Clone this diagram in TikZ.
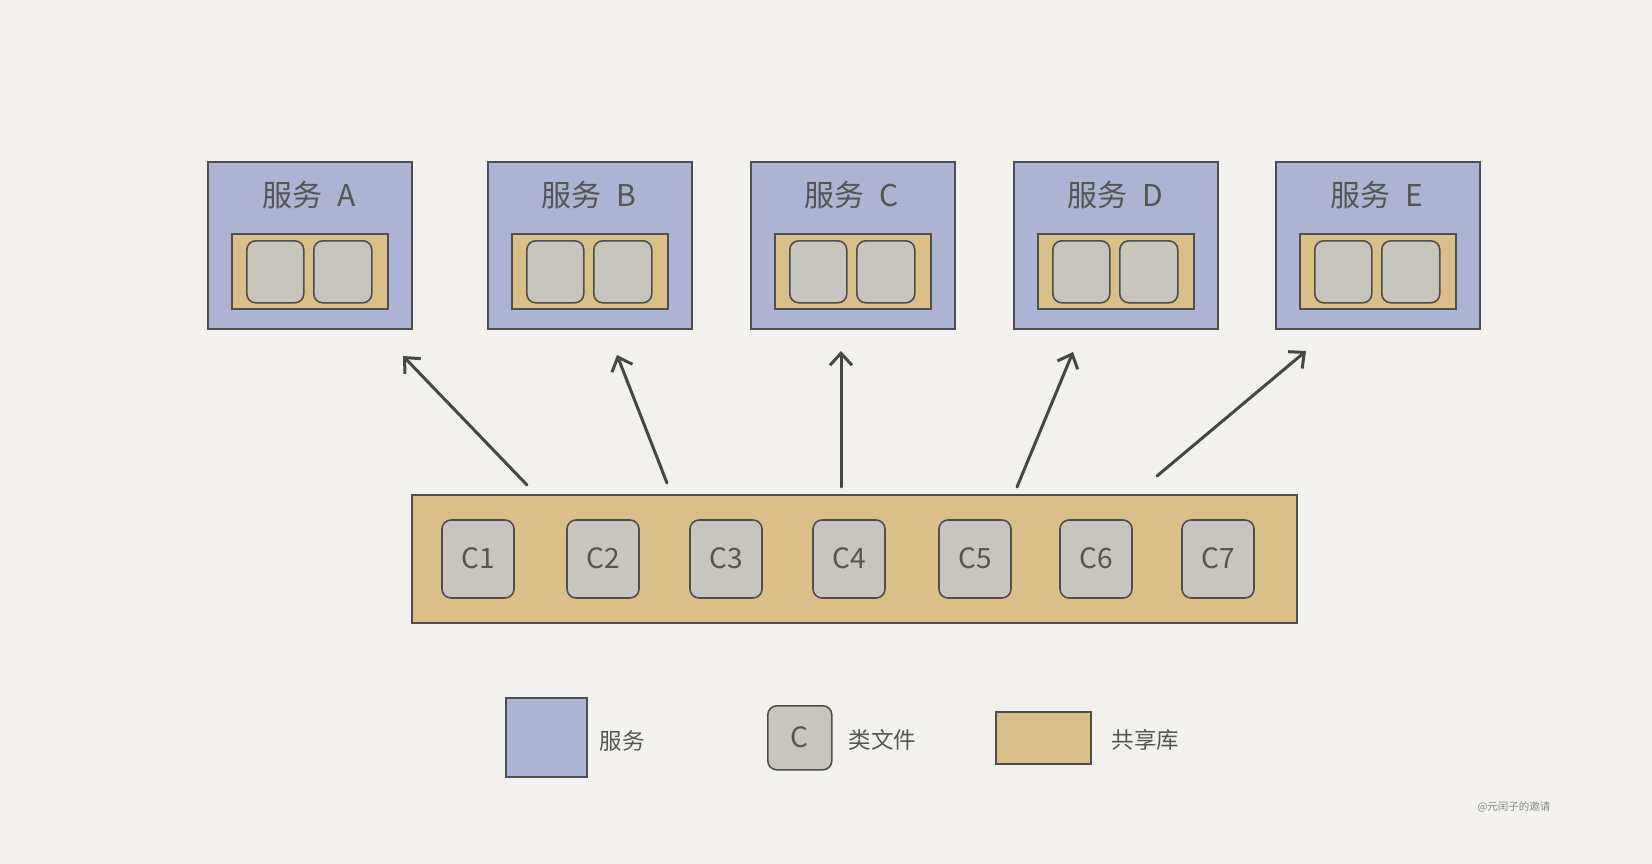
\documentclass[tikz,border=0pt]{standalone}
\usepackage{fontspec}
\setmainfont{Noto Sans CJK SC}
\usetikzlibrary{arrows.meta}
\definecolor{bgc}{HTML}{F2F1ED}
\definecolor{svcc}{HTML}{ADB3D3}
\definecolor{libc}{HTML}{DBBF89}
\definecolor{clsc}{HTML}{C8C4BE}
\definecolor{strokec}{HTML}{4E4E4E}
\definecolor{textc}{HTML}{555555}
\tikzset{
  svcbox/.style={draw=strokec, line width=2.2pt, fill=svcc, anchor=north west, inner sep=0pt},
  libbox/.style={draw=strokec, line width=2pt, fill=libc, anchor=north west, inner sep=0pt},
  clsbox/.style={draw=strokec, line width=1.6pt, fill=clsc, rounded corners=9pt, anchor=north west, inner sep=0pt},
  ttl/.style={text=textc, font=\fontsize{30}{32}\selectfont},
  ctext/.style={text=textc, font=\fontsize{28}{30}\selectfont},
  legtext/.style={text=textc, font=\fontsize{22.5}{24}\selectfont},
  arr/.style={draw=strokec!90!black, line width=3pt, line cap=round, -{Straight Barb[length=12pt,width=22pt,line width=3pt]}},
}
\begin{document}
\begin{tikzpicture}[x=1pt,y=-1pt]
\fill[bgc] (0,0) rectangle (1652,864);
\useasboundingbox (0,0) rectangle (1652,864);
% services
\foreach \n/\x/\l in {sA/207/A, sB/487/B, sC/750/C, sD/1013/D, sE/1275/E}{
  \node[svcbox, minimum width=204pt, minimum height=167pt] (\n) at (\x,161) {};
  \node[ttl] (\n t) at (\x+102,195) {服务\hspace{0.5em}\l};
  \node[libbox, minimum width=156pt, minimum height=75pt] (\n l) at (\x+24,233) {};
  \node[clsbox, minimum width=57pt, minimum height=62pt] (\n c1) at (\x+39,240) {};
  \node[clsbox, minimum width=58pt, minimum height=62pt] (\n c2) at (\x+106,240) {};
}
% shared library
\node[libbox, minimum width=885pt, minimum height=128pt] (lib) at (411,494) {};
\foreach \i/\x in {1/478, 2/603, 3/726, 4/849, 5/975, 6/1096, 7/1218}{
  \node[clsbox, anchor=center, minimum width=72pt, minimum height=78pt] (c\i) at (\x,559) {};
  \node[ctext] (c\i t) at (\x,558) {C\i};
}
% arrows
\coordinate (a1s) at (527,485); \coordinate (a1e) at (403,356);
\coordinate (a2s) at (667,483); \coordinate (a2e) at (617,355);
\coordinate (a3s) at (841,487); \coordinate (a3e) at (841,351);
\coordinate (a4s) at (1017,487); \coordinate (a4e) at (1073,352);
\coordinate (a5s) at (1157,476); \coordinate (a5e) at (1306,351);
\foreach \i in {1,...,5}{ \draw[arr] (a\i s) -- (a\i e); }
% legend
\node[svcbox, minimum width=81pt, minimum height=79pt] (lsvc) at (505,697) {};
\node[legtext, anchor=west] (lsvct) at (596,741) {服务};
\node[clsbox, minimum width=64pt, minimum height=64pt] (lcls) at (767,705) {};
\node[ctext] (lclst) at (799,737) {C};
\node[legtext, anchor=west] (lclstt) at (845,740) {类文件};
\node[libbox, minimum width=95pt, minimum height=52pt] (llib) at (995,711) {};
\node[legtext, anchor=west] (llibt) at (1108,740) {共享库};
\node[text=textc!70, font=\fontsize{10.5}{12}\selectfont, anchor=west] (wm) at (1474,807) {@元闰子的邀请};
\end{tikzpicture}
\end{document}
